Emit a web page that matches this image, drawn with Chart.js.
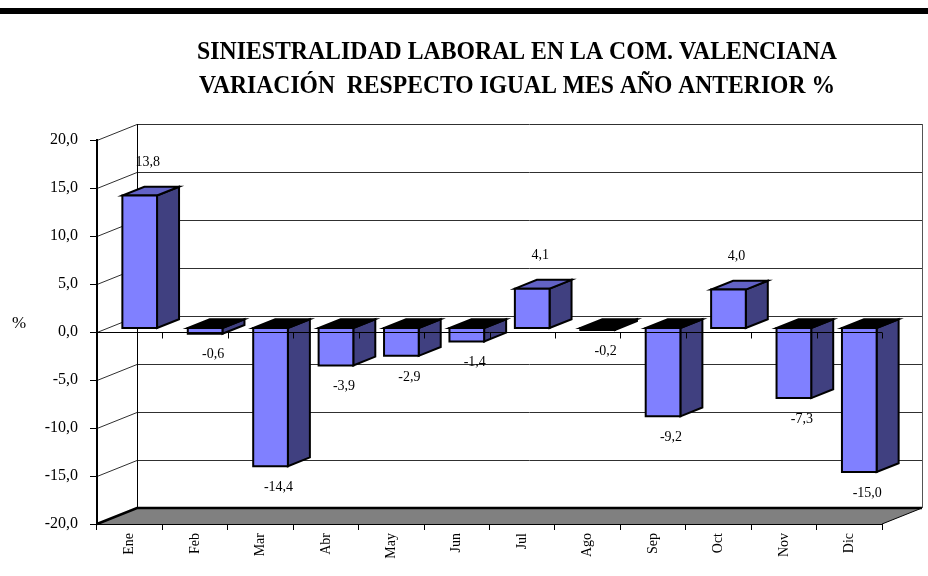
<!DOCTYPE html>
<html>
<head>
<meta charset="utf-8">
<script src="https://cdn.jsdelivr.net/npm/chart.js@4.4.1/dist/chart.umd.min.js"></script>
<style>
  html, body { margin: 0; padding: 0; background: #fff; }
  #c { display: block; }
</style>
</head>
<body>
<canvas id="c" width="928" height="576"></canvas>
<script>
// ---- data ----
const categories = ['Ene', 'Feb', 'Mar', 'Abr', 'May', 'Jun', 'Jul', 'Ago', 'Sep', 'Oct', 'Nov', 'Dic'];
const values = [13.8, -0.6, -14.4, -3.9, -2.9, -1.4, 4.1, -0.2, -9.2, 4.0, -7.3, -15.0];
const yTicks = [-20, -15, -10, -5, 0, 5, 10, 15, 20];
const titleLines = ['SINIESTRALIDAD LABORAL EN LA COM. VALENCIANA', 'VARIACIÓN  RESPECTO IGUAL MES AÑO ANTERIOR %'];
const yUnit = '%';

// ---- style ----
const SERIF = '"Liberation Serif", "Times New Roman", serif';
const DEPTH_X = 40, DEPTH_Y = 16;
const BAR_D1 = 0.25, BAR_D2 = 0.8, BAR_HALF = 0.265;
const C_FRONT = '#8080FF', C_SIDE = '#404080', C_TOP_POS = '#6262C6', C_TOP_NEG = '#000000';

function fmt(v) { return Number(v).toFixed(1).replace('.', ','); }

const scene = {
  id: 'scene3d',
  beforeDraw(chart) {
    const ctx = chart.ctx, a = chart.chartArea, ys = chart.scales.y;
    ctx.save();
    ctx.fillStyle = '#fff';
    ctx.fillRect(0, 0, chart.width, chart.height);
    // top band
    ctx.fillStyle = '#000';
    ctx.fillRect(0, 8, chart.width, 6);
    // title
    ctx.font = 'bold 25px ' + SERIF;
    ctx.textAlign = 'center';
    ctx.textBaseline = 'alphabetic';
    ctx.fillText(titleLines[0], 517, 59, 640);
    ctx.fillText(titleLines[1], 517, 93, 636);
    // unit label
    ctx.font = '17px ' + SERIF;
    ctx.fillText(yUnit, 19, ys.getPixelForValue(0) - 4);

    const L = a.left, R = a.right, T = a.top, B = a.bottom;
    // back wall gridlines + left wall lines
    ctx.lineWidth = 1;
    ctx.strokeStyle = '#303030';
    yTicks.forEach(t => {
      const y = Math.round(ys.getPixelForValue(t)) + 0.5;
      ctx.beginPath();
      ctx.moveTo(L + DEPTH_X, y - DEPTH_Y);
      ctx.lineTo(R + DEPTH_X, y - DEPTH_Y);
      ctx.stroke();
      ctx.beginPath();
      ctx.moveTo(L, y);
      ctx.lineTo(L + DEPTH_X, y - DEPTH_Y);
      ctx.stroke();
    });
    // back vertical edges
    ctx.strokeStyle = '#000';
    ctx.beginPath();
    ctx.moveTo(L + DEPTH_X + 0.5, T - DEPTH_Y);
    ctx.lineTo(L + DEPTH_X + 0.5, B - DEPTH_Y);
    ctx.stroke();
    ctx.strokeStyle = '#555';
    ctx.beginPath();
    ctx.moveTo(R + DEPTH_X + 0.5, T - DEPTH_Y);
    ctx.lineTo(R + DEPTH_X + 0.5, B - DEPTH_Y);
    ctx.stroke();
    // floor
    ctx.fillStyle = '#808080';
    ctx.beginPath();
    ctx.moveTo(L, B);
    ctx.lineTo(R, B);
    ctx.lineTo(R + DEPTH_X, B - DEPTH_Y);
    ctx.lineTo(L + DEPTH_X, B - DEPTH_Y);
    ctx.closePath();
    ctx.fill();
    ctx.strokeStyle = '#000';
    ctx.lineWidth = 2.5;
    ctx.beginPath();
    ctx.moveTo(L, B);
    ctx.lineTo(L + DEPTH_X, B - DEPTH_Y);
    ctx.lineTo(R + DEPTH_X, B - DEPTH_Y);
    ctx.stroke();
    ctx.lineWidth = 1;
    ctx.beginPath();
    ctx.moveTo(R, B);
    ctx.lineTo(R + DEPTH_X, B - DEPTH_Y);
    ctx.stroke();
    ctx.restore();
  },
  afterDatasetsDraw(chart) {
    const ctx = chart.ctx, a = chart.chartArea, xs = chart.scales.x, ys = chart.scales.y;
    const bw = xs.getPixelForValue(1) - xs.getPixelForValue(0);
    const hw = bw * BAR_HALF;
    const P = (x, y, d) => [x + DEPTH_X * d, y - DEPTH_Y * d];
    const poly = (pts, fill) => {
      ctx.beginPath();
      ctx.moveTo(pts[0][0], pts[0][1]);
      for (let k = 1; k < pts.length; k++) ctx.lineTo(pts[k][0], pts[k][1]);
      ctx.closePath();
      ctx.fillStyle = fill;
      ctx.fill();
      ctx.stroke();
    };
    ctx.save();
    ctx.lineWidth = 2;
    ctx.lineJoin = 'miter';
    ctx.strokeStyle = '#000';
    const y0 = ys.getPixelForValue(0);
    values.forEach((v, i) => {
      const c = xs.getPixelForValue(i);
      const yv = ys.getPixelForValue(v);
      const top = Math.min(y0, yv), bot = Math.max(y0, yv);
      const xl = c - hw, xr = c + hw;
      poly([P(xr, top, BAR_D1), P(xr, top, BAR_D2), P(xr, bot, BAR_D2), P(xr, bot, BAR_D1)], C_SIDE);
      poly([P(xl, top, BAR_D1), P(xr, top, BAR_D1), P(xr, top, BAR_D2), P(xl, top, BAR_D2)], v >= 0 ? C_TOP_POS : C_TOP_NEG);
      poly([P(xl, top, BAR_D1), P(xr, top, BAR_D1), P(xr, bot, BAR_D1), P(xl, bot, BAR_D1)], C_FRONT);
    });
    // front zero axis with ticks
    ctx.lineWidth = 1;
    const yz = Math.round(y0) + 0.5;
    ctx.beginPath();
    ctx.moveTo(a.left, yz);
    ctx.lineTo(a.right, yz);
    for (let i = 0; i <= categories.length; i++) {
      const x = Math.round(a.left + bw * i) + 0.5;
      ctx.moveTo(x, yz);
      ctx.lineTo(x, yz + 6);
    }
    ctx.stroke();
    // data labels
    ctx.fillStyle = '#000';
    ctx.font = '14px ' + SERIF;
    ctx.textAlign = 'center';
    ctx.textBaseline = 'middle';
    values.forEach((v, i) => {
      const c = xs.getPixelForValue(i);
      const yv = ys.getPixelForValue(v);
      const y = v >= 0 ? yv - 37 : yv + 17;
      ctx.fillText(fmt(v), c + 18, y);
    });
    ctx.restore();
  }
};

new Chart(document.getElementById('c'), {
  type: 'bar',
  data: {
    labels: categories,
    datasets: [{ data: values, backgroundColor: 'rgba(128,128,255,0)', borderWidth: 0 }]
  },
  options: {
    responsive: false,
    animation: false,
    devicePixelRatio: 1,
    layout: { padding: { top: 140, right: 46, bottom: 0, left: 0 } },
    plugins: { legend: { display: false }, title: { display: false }, tooltip: { enabled: false } },
    scales: {
      x: {
        type: 'category',
        offset: true,
        grid: { offset: true, drawOnChartArea: false, drawTicks: true, tickLength: 6, color: '#000' },
        border: { color: '#000', width: 1 },
        ticks: { minRotation: 90, maxRotation: 90, autoSkip: false, color: '#000', padding: 3,
                 font: { family: SERIF, size: 14 } },
        afterFit(s) { s.height = 52; }
      },
      y: {
        min: -20, max: 20,
        afterBuildTicks(s) { s.ticks = yTicks.map(v => ({ value: v })); },
        ticks: { color: '#000', padding: 12, font: { family: SERIF, size: 16 }, callback: v => fmt(v) },
        grid: { drawOnChartArea: false, drawTicks: true, tickLength: 7, color: '#000' },
        border: { color: '#000', width: 2 },
        afterFit(s) { s.width = 97; }
      }
    }
  },
  plugins: [scene]
});
</script>
</body>
</html>
